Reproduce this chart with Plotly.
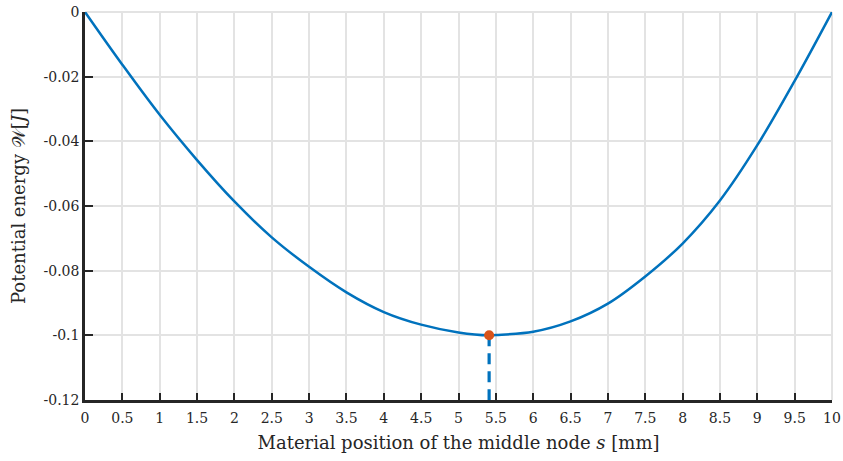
import plotly.graph_objects as go

# Potential energy of the bar as the middle node slides along it
s_mm = [0, 0.5, 1, 1.5, 2, 2.5, 3, 3.5, 4, 4.5, 5, 5.41, 5.5, 6, 6.5, 7, 7.5, 8, 8.5, 9, 9.5, 10]
energy_J = [0, -0.0163, -0.0318, -0.0458, -0.0586, -0.0697, -0.0788, -0.0867, -0.0928, -0.0967,
            -0.0991, -0.1, -0.0999, -0.0989, -0.0957, -0.0902, -0.0818, -0.0716, -0.0583, -0.0412,
            -0.0213, 0]

# Equilibrium (minimum energy) position
s_min = 5.41
w_min = -0.1

x_ticks = [0, 0.5, 1, 1.5, 2, 2.5, 3, 3.5, 4, 4.5, 5, 5.5, 6, 6.5, 7, 7.5, 8, 8.5, 9, 9.5, 10]
x_ticklabels = ["0", "0.5", "1", "1.5", "2", "2.5", "3", "3.5", "4", "4.5", "5", "5.5",
                "6", "6.5", "7", "7.5", "8", "8.5", "9", "9.5", "10"]
y_ticks = [0, -0.02, -0.04, -0.06, -0.08, -0.1, -0.12]
y_ticklabels = ["0", "-0.02", "-0.04", "-0.06", "-0.08", "-0.1", "-0.12"]

x_range = [0, 10]
y_range = [-0.12, 0]

BLUE = "#0072BD"
ORANGE = "#D95319"
GRID = "#e3e3e3"
AXIS = "#262626"
FONT = "DejaVu Serif"

fig = go.Figure()

fig.add_trace(go.Scatter(
    x=s_mm, y=energy_J, mode="lines",
    line=dict(color=BLUE, width=2.5, shape="spline", smoothing=1.0),
    hoverinfo="skip", showlegend=False,
))

# Drop line from the minimum down to the axis
fig.add_trace(go.Scatter(
    x=[s_min, s_min], y=[w_min, y_range[0]], mode="lines",
    line=dict(color=BLUE, width=3.2, dash="11px,7px"),
    hoverinfo="skip", showlegend=False,
))

fig.add_trace(go.Scatter(
    x=[s_min], y=[w_min], mode="markers",
    marker=dict(color=ORANGE, size=10),
    hoverinfo="skip", showlegend=False,
))

# Grid lines along the top and right edges
fig.add_shape(type="line", xref="paper", yref="paper", x0=0, x1=1, y0=1, y1=1,
              line=dict(color=GRID, width=2), layer="below")
fig.add_shape(type="line", xref="paper", yref="paper", x0=1, x1=1, y0=0, y1=1,
              line=dict(color=GRID, width=2), layer="below")

fig.update_layout(
    width=843, height=461,
    margin=dict(l=85, r=11, t=12, b=61),
    paper_bgcolor="white", plot_bgcolor="white",
    font=dict(family=FONT, size=15, color=AXIS),
    showlegend=False,
)

fig.update_xaxes(
    range=x_range, tickvals=x_ticks, ticktext=x_ticklabels, automargin=False,
    showgrid=True, gridcolor=GRID, gridwidth=2, zeroline=False,
    showline=True, linecolor=AXIS, linewidth=2.5,
    ticks="inside", ticklen=7, tickwidth=2, tickcolor=AXIS,
    ticklabelstandoff=3,
    tickfont=dict(family=FONT, size=14, color=AXIS),
    title=dict(text="Material position of the middle node <i>s</i> [mm]",
               font=dict(family=FONT, size=18, color=AXIS), standoff=12),
)

fig.update_yaxes(
    range=y_range, tickvals=y_ticks, ticktext=y_ticklabels, automargin=False,
    showgrid=True, gridcolor=GRID, gridwidth=2, zeroline=False,
    showline=True, linecolor=AXIS, linewidth=2.5,
    ticks="inside", ticklen=8, tickwidth=2, tickcolor=AXIS,
    tickfont=dict(family=FONT, size=14, color=AXIS),
    title=dict(text="Potential energy 𝒲[<i>J</i>]",
               font=dict(family=FONT, size=18, color=AXIS), standoff=14),
)

fig.write_html("out.html")
